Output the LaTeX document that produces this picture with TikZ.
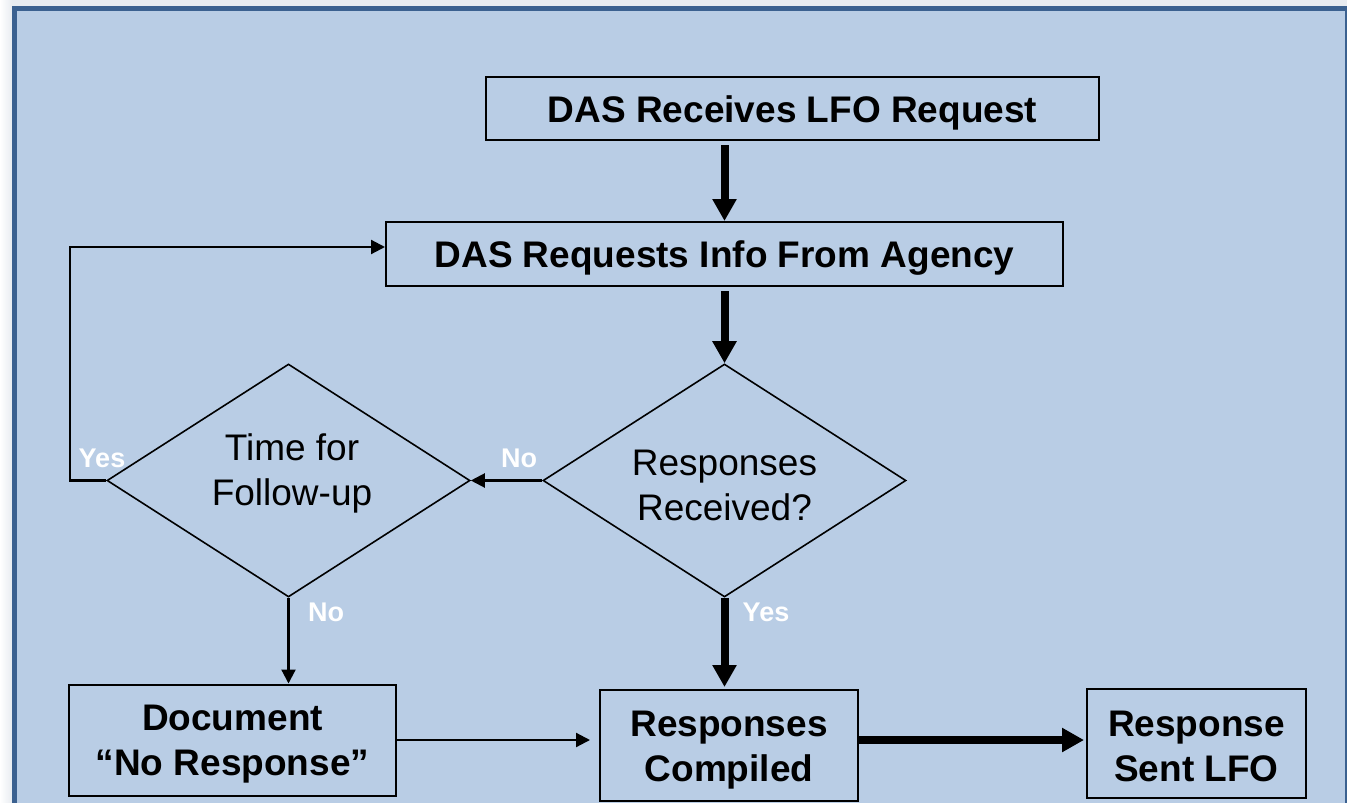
\documentclass[tikz,border=0pt]{standalone}
\usepackage{fontspec}
\setmainfont{Liberation Sans}
\usetikzlibrary{arrows.meta,shapes.geometric}
\definecolor{panelcol}{HTML}{B9CDE5}
\definecolor{framecol}{HTML}{3B6190}
\definecolor{outercol}{HTML}{E8ECF1}
\begin{document}
\begin{tikzpicture}[x=1pt,y=-1pt,
  boxnode/.style={draw=black,line width=2pt,rectangle,inner sep=0pt},
  boxtext/.style={align=center,inner sep=0pt,yshift=-4.5pt,
    font=\fontsize{37}{45}\selectfont\bfseries},
  decnode/.style={draw=black,line width=1.6pt,diamond,inner sep=0pt,
    minimum width=363pt,minimum height=233pt},
  dectext/.style={align=center,inner sep=0pt,font=\fontsize{37}{45}\selectfont},
  lbl/.style={text=white,inner sep=0pt,font=\fontsize{27}{30}\selectfont\bfseries},
  thickarrow/.style={line width=8pt,-{Triangle[length=22pt,width=23pt]}},
  thinarrow/.style={line width=2.2pt,-{Triangle[length=14pt,width=14pt]}}]
\useasboundingbox (0,0) rectangle (1347,803);
% background and panel
\fill[outercol] (0,0) rectangle (1347,803);
\shade[left color=white,right color=outercol] (0,0) rectangle (12,803);
\fill[panelcol] (15,9) rectangle (1346,803);
\draw[framecol,line width=5pt] (14.5,803) -- (14.5,8.5) -- (1347,8.5);
\draw[framecol,line width=2pt] (1345.5,11) -- (1345.5,803);
% nodes
\node[boxnode,minimum width=613pt,minimum height=63pt,
  label={[boxtext]center:DAS Receives LFO Request}] (b1) at (792.5,108.5) {};
\node[boxnode,minimum width=677pt,minimum height=64pt,
  label={[boxtext]center:DAS Requests Info From Agency}] (b2) at (724.5,254) {};
\node[decnode] (rd) at (724.5,480.5) {};
\node[dectext] (rdt) at (724.5,485) {Responses\\Received?};
\node[decnode] (ld) at (288.5,480.5) {};
\node[dectext] (ldt) at (292,473) {Time for\\Follow-up};
\node[boxnode,minimum width=327pt,minimum height=111pt,
  label={[boxtext]center:{Document\\“No Response”}}] (doc) at (232.5,740) {};
\node[boxnode,minimum width=258pt,minimum height=111pt,
  label={[boxtext]center:{Responses\\Compiled}}] (comp) at (729,745.5) {};
\node[boxnode,minimum width=219pt,minimum height=109pt,
  label={[boxtext,yshift=2pt]center:{Response\\Sent LFO}}] (sent) at (1196.5,743.5) {};
% connectors
\draw[thickarrow,shorten <=4pt] (b2.north |- b1.south) -- (b2.north);
\draw[thickarrow,shorten <=4pt] (b2.south) -- (rd.north);
\draw[thickarrow,shorten >=2pt] (rd.south) -- (rd.south |- comp.north);
\draw[thickarrow,shorten >=2pt] (comp.east |- doc.east) -- (sent.west |- doc.east);
\draw[thinarrow] (rd.west) -- (ld.east);
\coordinate (c1) at (70,480.5);
\coordinate (c2) at (70,247);
\draw[thinarrow] (ld.west) -- (c1) -- (c2) -- (c2 -| b2.west);
\draw[thinarrow] (ld.south) -- (ld.south |- doc.north);
\draw[thinarrow,shorten >=9pt] (doc.east) -- (comp.west |- doc.east);
% labels
\node[lbl] (l1) at (102,458) {Yes};
\node[lbl] (l2) at (519,458) {No};
\node[lbl] (l3) at (326,612) {No};
\node[lbl] (l4) at (766,612) {Yes};
\end{tikzpicture}
\end{document}
